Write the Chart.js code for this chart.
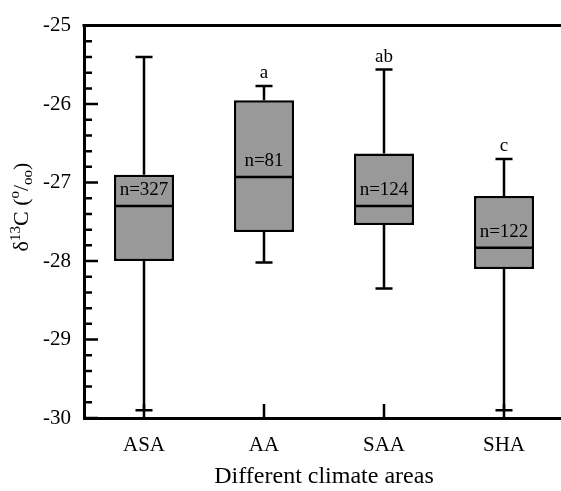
<!DOCTYPE html>
<html>
<head>
<meta charset="utf-8">
<script src="https://cdn.jsdelivr.net/npm/chart.js@4.4.1/dist/chart.umd.min.js"></script>
<style>
  html, body { margin: 0; padding: 0; background: #fff; overflow: hidden; }
  #wrap { width: 600px; height: 491px; }
</style>
</head>
<body>
<div id="wrap"><canvas id="boxChart"></canvas></div>
<script>
const categories = ['ASA', 'AA', 'SAA', 'SHA'];
const whiskerLow = [-29.90, -28.02, -28.35, -29.90];
const q1 = [-28.00, -27.63, -27.54, -28.10];
const median = [-27.30, -26.93, -27.30, -27.83];
const q3 = [-26.90, -25.95, -26.63, -27.17];
const whiskerHigh = [-25.40, -25.77, -25.56, -26.70];
const counts = [327, 81, 124, 122];
const groupLetters = ['', 'a', 'ab', 'c'];

const serif = 'Liberation Serif';

// whiskers, medians, n= labels, letters, inward ticks, top frame line, y title
const boxExtras = {
    id: 'boxExtras',
    afterDatasetsDraw(chart) {
        const ctx = chart.ctx;
        const x = chart.scales.x;
        const y = chart.scales.y;
        const area = chart.chartArea;
        const boxHalf = chart.getDatasetMeta(0).data[0].width / 2;
        ctx.save();
        ctx.strokeStyle = '#000';
        ctx.fillStyle = '#000';
        ctx.lineWidth = 2.5;

        categories.forEach((c, i) => {
            const cx = x.getPixelForValue(i);
            // whiskers
            ctx.beginPath();
            ctx.moveTo(cx, y.getPixelForValue(q3[i]));
            ctx.lineTo(cx, y.getPixelForValue(whiskerHigh[i]));
            ctx.moveTo(cx, y.getPixelForValue(q1[i]));
            ctx.lineTo(cx, y.getPixelForValue(whiskerLow[i]));
            // caps
            [whiskerHigh[i], whiskerLow[i]].forEach(v => {
                const py = y.getPixelForValue(v);
                ctx.moveTo(cx - 8.5, py);
                ctx.lineTo(cx + 8.5, py);
            });
            // median
            const my = y.getPixelForValue(median[i]);
            ctx.moveTo(cx - boxHalf, my);
            ctx.lineTo(cx + boxHalf, my);
            ctx.stroke();

            ctx.font = '19px ' + serif;
            ctx.textAlign = 'center';
            ctx.textBaseline = 'middle';
            ctx.fillText('n=' + counts[i], cx, my - 16);
            if (groupLetters[i]) {
                ctx.fillText(groupLetters[i], cx, y.getPixelForValue(whiskerHigh[i]) - 13);
            }
        });

        // inward ticks on y axis
        ctx.lineWidth = 2.5;
        ctx.beginPath();
        for (let k = 0; k <= 25; k++) {
            const v = -30 + k * 0.2;
            const py = y.getPixelForValue(v);
            const len = k % 5 === 0 ? 14 : 8;
            ctx.moveTo(area.left, py);
            ctx.lineTo(area.left + len, py);
        }
        // inward ticks on x axis
        categories.forEach((c, i) => {
            const cx = x.getPixelForValue(i);
            ctx.moveTo(cx, area.bottom);
            ctx.lineTo(cx, area.bottom - 14);
        });
        ctx.stroke();

        // top frame line
        ctx.lineWidth = 3;
        ctx.beginPath();
        ctx.moveTo(area.left - 1.5, area.top);
        ctx.lineTo(area.right, area.top);
        ctx.stroke();

        // y axis title: δ13C (o/oo)
        const parts = [
            { t: 'δ', size: 22, dy: 0 },
            { t: '13', size: 15, dy: -8 },
            { t: 'C (', size: 22, dy: 0 },
            { t: 'o', size: 15, dy: -9 },
            { t: '/', size: 22, dy: 0 },
            { t: 'oo', size: 15, dy: 4 },
            { t: ')', size: 22, dy: 0 }
        ];
        let total = 0;
        parts.forEach(p => {
            ctx.font = p.size + 'px ' + serif;
            p.w = ctx.measureText(p.t).width;
            total += p.w;
        });
        ctx.translate(20, 207);
        ctx.rotate(-Math.PI / 2);
        ctx.textAlign = 'left';
        ctx.textBaseline = 'alphabetic';
        let px = -total / 2;
        parts.forEach(p => {
            ctx.font = p.size + 'px ' + serif;
            ctx.fillText(p.t, px, 8 + p.dy);
            px += p.w;
        });
        ctx.restore();
    }
};

const ctx = document.getElementById('boxChart').getContext('2d');
new Chart(ctx, {
    type: 'bar',
    data: {
        labels: categories,
        datasets: [{
            data: q1.map((v, i) => [v, q3[i]]),
            backgroundColor: '#999999',
            borderColor: '#000',
            borderWidth: 2.5,
            borderSkipped: false,
            barPercentage: 0.5,
            categoryPercentage: 1.0
        }]
    },
    options: {
        responsive: true,
        maintainAspectRatio: false,
        animation: false,
        layout: { padding: { top: 18, right: 36, left: 0, bottom: 0 } },
        plugins: {
            legend: { display: false },
            tooltip: { enabled: false }
        },
        scales: {
            x: {
                grid: { display: false, drawTicks: false },
                border: { display: true, color: '#000', width: 3 },
                ticks: { color: '#000', font: { family: serif, size: 21 }, padding: 15 },
                title: {
                    display: true,
                    text: 'Different climate areas',
                    color: '#000',
                    font: { family: serif, size: 24 },
                    padding: { top: 4, bottom: 0 }
                },
                afterFit(scale) { scale.height = 73; }
            },
            y: {
                min: -30,
                max: -25,
                grid: { display: false, drawTicks: false },
                border: { display: true, color: '#000', width: 3 },
                ticks: { stepSize: 1, color: '#000', font: { family: serif, size: 21 }, padding: 13 },
                afterFit(scale) { scale.width = 84; }
            }
        }
    },
    plugins: [boxExtras]
});
</script>
</body>
</html>
